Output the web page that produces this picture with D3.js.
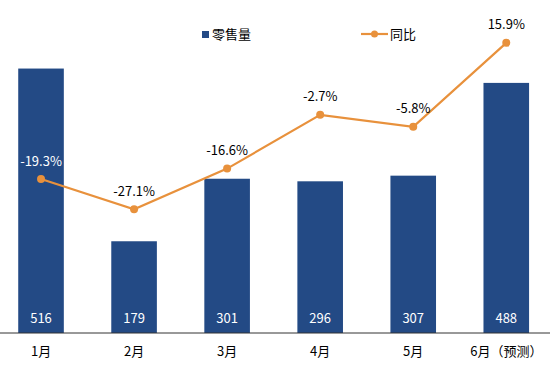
<!DOCTYPE html>
<html><head><meta charset="utf-8">
<script src="https://cdn.jsdelivr.net/npm/d3@7"></script>
<style>body{margin:0;background:#fff}svg{display:block}</style>
</head><body>
<script>
const categories = ["1月","2月","3月","4月","5月","6月（预测）"];
const sales = [516,179,301,296,307,488];
const yoy = [-19.3,-27.1,-16.6,-2.7,-5.8,15.9];
const seriesNames = ["零售量","同比"];

const W = 550, H = 367;
const font = "'Noto Sans CJK SC', 'Noto Sans', sans-serif";
const barColor = "#234A85", lineColor = "#E8913C";
const svg = d3.select("body").append("svg").attr("width", W).attr("height", H)
  .style("font-family", font);

const x = d3.scaleBand().domain(categories).range([-5.5, 552.8]).padding(0);
const barW = x.bandwidth() * 0.49;
const y = d3.scaleLinear().domain([0, 600]).range([333, 25.5]);
const y2 = d3.scaleLinear().domain([-60, 20]).range([336.5, 27]);
const cx = d => x(d) + x.bandwidth() / 2;

// bars
svg.selectAll("rect.bar").data(sales).enter().append("rect")
  .attr("x", (d, i) => cx(categories[i]) - barW / 2)
  .attr("y", d => y(d))
  .attr("width", barW)
  .attr("height", d => y(0) - y(d))
  .attr("fill", barColor);

// x axis
const xAxis = d3.axisBottom(x).tickSize(0).tickPadding(14);
const gx = svg.append("g").attr("transform", `translate(0,${y(0)})`).call(xAxis);
gx.select(".domain").attr("stroke", "#333").attr("stroke-width", 1).attr("d", `M0,0H${W}`);
gx.selectAll("text").attr("font-size", 13).attr("fill", "#000").style("font-family", font);

// bar value labels
svg.selectAll("text.val").data(sales).enter().append("text")
  .attr("x", (d, i) => cx(categories[i]))
  .attr("y", y(0) - 15)
  .attr("dy", "0.35em")
  .attr("text-anchor", "middle")
  .attr("font-size", 13)
  .attr("fill", "#fff")
  .text(d => d);

// line
const line = d3.line().x((d, i) => cx(categories[i])).y(d => y2(d));
svg.append("path").datum(yoy).attr("d", line)
  .attr("fill", "none").attr("stroke", lineColor).attr("stroke-width", 2.2);
svg.selectAll("circle.pt").data(yoy).enter().append("circle")
  .attr("cx", (d, i) => cx(categories[i])).attr("cy", d => y2(d))
  .attr("r", 4).attr("fill", lineColor);

svg.selectAll("text.pct").data(yoy).enter().append("text")
  .attr("x", (d, i) => cx(categories[i]))
  .attr("y", d => y2(d) - 18)
  .attr("dy", "0.35em")
  .attr("text-anchor", "middle")
  .attr("font-size", 13)
  .attr("fill", (d, i) => i === 0 ? "#fff" : "#000")
  .text(d => d.toFixed(1) + "%");

// legend
const lg = svg.append("g");
lg.append("rect").attr("x", 202).attr("y", 31).attr("width", 7).attr("height", 7).attr("fill", barColor);
lg.append("text").attr("x", 212).attr("y", 34).attr("dy", "0.35em").attr("font-size", 13).text(seriesNames[0]);
lg.append("line").attr("x1", 361).attr("x2", 388).attr("y1", 34).attr("y2", 34)
  .attr("stroke", lineColor).attr("stroke-width", 2.2);
lg.append("circle").attr("cx", 374.5).attr("cy", 34).attr("r", 3.5).attr("fill", lineColor);
lg.append("text").attr("x", 390).attr("y", 34).attr("dy", "0.35em").attr("font-size", 13).text(seriesNames[1]);
</script>
</body></html>
